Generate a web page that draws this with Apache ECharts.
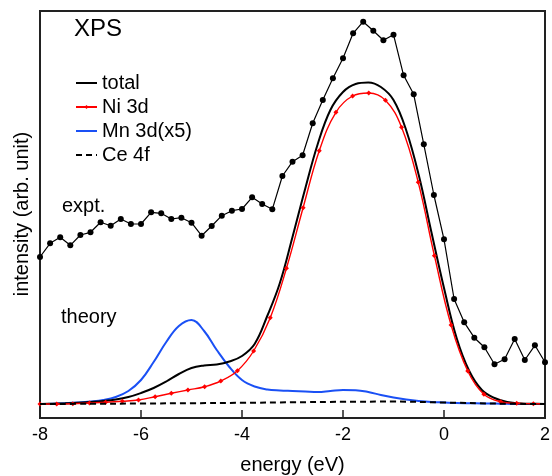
<!DOCTYPE html>
<html><head><meta charset="utf-8">
<script src="https://cdn.jsdelivr.net/npm/echarts@6/dist/echarts.min.js"></script>
<style>html,body{margin:0;padding:0;background:#fff}#c{width:552px;height:476px}</style>
</head><body><div id="c"></div>
<script>
// ---- data (intensity in arbitrary units) ----
const exptEnergy = [-8.0,-7.8,-7.6,-7.4,-7.2,-7.0,-6.8,-6.6,-6.4,-6.2,-6.0,-5.8,-5.6,-5.4,-5.2,-5.0,-4.8,-4.6,-4.4,-4.2,-4.0,-3.8,-3.6,-3.4,-3.2,-3.0,-2.8,-2.6,-2.4,-2.2,-2.0,-1.8,-1.6,-1.4,-1.2,-1.0,-0.8,-0.6,-0.4,-0.2,0.0,0.2,0.4,0.6,0.8,1.0,1.2,1.4,1.6,1.8,2.0];
const exptIntensity = [161,174.7,180.7,172.7,183,185.7,195.7,192.3,199,194,194,205.7,204.7,199,200.3,195.3,182.3,192,202.3,207.3,209,220.7,214,208.7,242,256.3,262.7,294.7,318,339.7,359.7,384.7,396.3,387.3,377.7,383.3,342.7,323.7,273.7,223,178.7,119,95.7,80.3,70.7,53.7,58.7,79,58,72.7,55.7];

const theoryEnergy = [-8,-7.75,-7.5,-7.25,-7,-6.75,-6.5,-6.25,-6,-5.75,-5.5,-5.25,-5,-4.75,-4.5,-4.25,-4,-3.75,-3.5,-3.25,-3,-2.75,-2.5,-2.25,-2,-1.75,-1.5,-1.25,-1,-0.75,-0.5,-0.25,0,0.25,0.5,0.75,1,1.25,1.5,1.75,2];
const totalIntensity = [14,14.3,14.7,15.2,16,17,18.5,21,25,30,36.5,44,50,52.5,53.5,56.5,62,74,102,135,181,229,274,308,326,334,335.5,331,318,288,243,186,130,80,47,28,20,16,14.5,14.2,14];
const mnIntensity = [14,14.3,14.8,15.5,16.5,18,21,27,38,56,76,92,98,87,68,51,38,31.5,28.5,27.5,27,26.5,26,27,28,27.8,26,23,20.5,18.5,17,16,15.5,15,14.8,14.6,14.4,14.2,14,14,14];

const niEnergy = [-8.00,-7.67,-7.35,-7.02,-6.70,-6.37,-6.05,-5.72,-5.40,-5.07,-4.74,-4.42,-4.09,-3.77,-3.44,-3.12,-2.79,-2.47,-2.14,-1.81,-1.49,-1.16,-0.84,-0.51,-0.19,0.14,0.47,0.79,1.12,1.44,1.77,2.00];
const niIntensity = [14,14,14.3,15,15.7,16.7,18,21.3,24.7,28,31.3,37,47.3,67,100.3,149.7,210.3,267.3,305.7,322,325,317.7,290.7,235.7,162.3,93,47,23.7,16.3,14.7,14.3,14];

const ceEnergy = [-8,-7,-6,-5,-4,-3,-2,-1,0,1,2];
const ceIntensity = [14,14.2,14.5,14.8,15.2,15.7,16.2,16.4,15.5,14.4,14];

const xTicks = [-8,-6,-4,-2,0,2];

// ---- build ----
const FONT = 'Liberation Sans';
const pairs = (xs, ys) => xs.map((x, i) => [x, ys[i]]);
const niData = pairs(niEnergy, niIntensity).map((p, i, a) => i === a.length - 1 ? {value: p, symbol: 'none'} : p);
const noSym = {opacity: 0};

const chart = echarts.init(document.getElementById('c'), null, {renderer: 'canvas'});
chart.setOption({
  animation: false,
  backgroundColor: '#fff',
  grid: {left: 40, right: 7, top: 11, bottom: 58, outerBoundsMode: 'none', containLabel: false,
         show: true, borderColor: '#222', borderWidth: 2, backgroundColor: 'transparent'},
  xAxis: {
    type: 'value', min: xTicks[0], max: xTicks[xTicks.length - 1], interval: 2,
    axisLine: {show: false},
    axisTick: {show: true, inside: true, length: 8, lineStyle: {color: '#222', width: 1.5}},
    splitLine: {show: false},
    axisLabel: {fontSize: 18, color: '#000', fontFamily: FONT, margin: 8},
    name: 'energy (eV)', nameLocation: 'middle', nameGap: 37,
    nameTextStyle: {fontSize: 20, color: '#000', fontFamily: FONT}
  },
  yAxis: {
    type: 'value', min: 0, max: 407,
    axisLine: {show: false}, axisTick: {show: false}, axisLabel: {show: false}, splitLine: {show: false}
  },
  legend: {
    data: [{name: 'total', itemStyle: noSym}, {name: 'Ni 3d'}, {name: 'Mn 3d(x5)', itemStyle: noSym}, {name: 'Ce 4f', itemStyle: noSym}],
    orient: 'vertical', left: 70, top: 68,
    itemWidth: 21, itemHeight: 5, itemGap: 4,
    textStyle: {fontSize: 20, color: '#000', fontFamily: FONT}
  },
  graphic: [
    {type: 'text', left: 74, top: 17, style: {text: 'XPS', fontSize: 24, fill: '#000', fontFamily: FONT}},
    {type: 'text', left: 62, top: 196, style: {text: 'expt.', fontSize: 20, fill: '#000', fontFamily: FONT}},
    {type: 'text', left: 61, top: 307, style: {text: 'theory', fontSize: 20, fill: '#000', fontFamily: FONT}},
    {type: 'text', x: 22, y: 214, rotation: Math.PI / 2,
     style: {text: 'intensity (arb. unit)', fontSize: 20, fill: '#000', fontFamily: FONT, align: 'center', verticalAlign: 'middle'}}
  ],
  series: [
    {name: 'expt.', type: 'line', data: pairs(exptEnergy, exptIntensity), symbol: 'circle', symbolSize: 6,
     itemStyle: {color: '#000'}, lineStyle: {color: '#000', width: 1.2}, z: 2},
    {name: 'Mn 3d(x5)', type: 'line', data: pairs(theoryEnergy, mnIntensity), smooth: 0.4, symbol: 'none',
     itemStyle: {color: '#1a50f5'}, lineStyle: {color: '#1a50f5', width: 2}, z: 3},
    {name: 'total', type: 'line', data: pairs(theoryEnergy, totalIntensity), smooth: 0.4, symbol: 'none',
     itemStyle: {color: '#000'}, lineStyle: {color: '#000', width: 2}, z: 4},
    {name: 'Ni 3d', type: 'line', data: niData, smooth: 0.4, symbol: 'diamond', symbolSize: 5,
     itemStyle: {color: '#ff0000'}, lineStyle: {color: '#ff0000', width: 1.4}, z: 5},
    {name: 'Ce 4f', type: 'line', data: pairs(ceEnergy, ceIntensity), smooth: 0.4, symbol: 'none',
     itemStyle: {color: '#000'}, lineStyle: {color: '#000', width: 2, type: [6, 4]}, z: 6}
  ]
});
</script>
</body></html>
